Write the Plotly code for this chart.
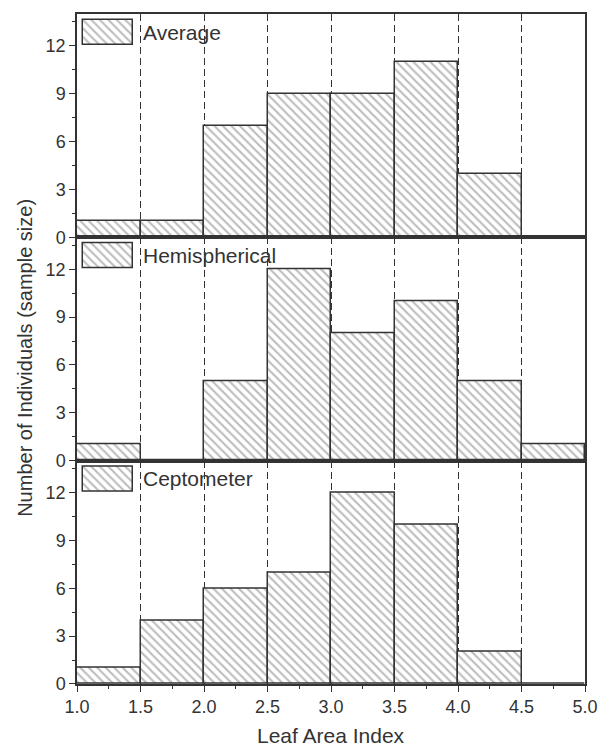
import plotly.graph_objects as go
from plotly.subplots import make_subplots

# ---- data ----
bin_left = [1.0, 1.5, 2.0, 2.5, 3.0, 3.5, 4.0, 4.5]
bin_width = 0.5
average = [1, 1, 7, 9, 9, 11, 4, 0]
hemispherical = [1, 0, 5, 12, 8, 10, 5, 1]
ceptometer = [1, 4, 6, 7, 12, 10, 2, 0]
series_names = ["Average", "Hemispherical", "Ceptometer"]
series_values = [average, hemispherical, ceptometer]
x_ticks = [1.0, 1.5, 2.0, 2.5, 3.0, 3.5, 4.0, 4.5, 5.0]
y_ticks = [0, 3, 6, 9, 12]
x_range = [1.0, 5.0]
y_range = [0, 14]

# ---- layout constants ----
W, H = 610, 749
ML, MR, MT, MB = 77, 14, 14, 65
INK = "#333333"
FONT = "Liberation Sans, Arial, Helvetica, sans-serif"

panel_h = (H - MT - MB) / 3.0
px_per_x = (W - ML - MR) / (x_range[1] - x_range[0])
px_per_y = panel_h / (y_range[1] - y_range[0])

fig = make_subplots(rows=3, cols=1, shared_xaxes=True, vertical_spacing=0)

marker_style = dict(
    color="white",
    line=dict(color=INK, width=1.5),
    pattern=dict(shape="\\", fgcolor="#7a7a7a", bgcolor="white", size=6, solidity=0.35),
)

centers = [b + bin_width / 2 for b in bin_left]

# legend swatch geometry (pixels from panel top-left)
sw_left, sw_w, sw_top, sw_h = 6, 51, 5.5, 25
txt_left = 65

for i, (name, vals) in enumerate(zip(series_names, series_values)):
    row = i + 1
    fig.add_trace(go.Bar(x=centers, y=vals, width=[bin_width] * len(vals),
                         marker=marker_style, name=name, showlegend=False,
                         hoverinfo="x+y"), row=row, col=1)
    # legend swatch
    xc = x_range[0] + (sw_left + sw_w / 2) / px_per_x
    wd = sw_w / px_per_x
    base = y_range[1] - (sw_top + sw_h) / px_per_y
    hh = sw_h / px_per_y
    fig.add_trace(go.Bar(x=[xc], y=[hh], base=[base], width=[wd],
                         marker=marker_style, showlegend=False, hoverinfo="skip"),
                  row=row, col=1)
    axn = "" if row == 1 else str(row)
    fig.add_annotation(xref="x" + axn, yref="y" + axn,
                       x=x_range[0] + txt_left / px_per_x,
                       y=y_range[1] - (sw_top + sw_h / 2) / px_per_y,
                       text=name, showarrow=False, xanchor="left", yanchor="middle",
                       font=dict(family=FONT, size=21, color=INK))

for row in (1, 2, 3):
    fig.update_yaxes(range=y_range, tickvals=y_ticks, ticks="outside", ticklen=6,
                     tickwidth=1.3, tickcolor=INK,
                     minor=dict(dtick=1.5, tick0=0, ticks="outside", ticklen=3,
                                tickcolor=INK, tickwidth=1.3, showgrid=False),
                     showgrid=False, zeroline=False, showline=True, linecolor=INK,
                     linewidth=1.5, mirror=True,
                     tickfont=dict(family=FONT, size=18, color=INK),
                     fixedrange=True, row=row, col=1)
    fig.update_xaxes(range=x_range, tickvals=x_ticks, showgrid=True,
                     gridcolor=INK, gridwidth=1.3, griddash="7px,4px",
                     zeroline=False, showline=True, linecolor=INK, linewidth=1.5,
                     mirror=True, fixedrange=True, row=row, col=1)

fig.update_xaxes(ticks="", showticklabels=False, row=1, col=1)
fig.update_xaxes(ticks="", showticklabels=False, row=2, col=1)
fig.update_xaxes(ticks="outside", ticklen=6, tickwidth=1.3, tickcolor=INK,
                 showticklabels=True, tickformat=".1f",
                 minor=dict(dtick=0.25, tick0=1.0, ticks="outside", ticklen=3,
                            tickcolor=INK, tickwidth=1.3, showgrid=False),
                 tickfont=dict(family=FONT, size=18, color=INK), row=3, col=1)

# axis titles
fig.add_annotation(xref="paper", yref="paper", x=(24 - ML) / (W - ML - MR), y=0.487,
                   text="Number of Individuals (sample size)", textangle=-90,
                   showarrow=False, xanchor="center", yanchor="middle",
                   font=dict(family=FONT, size=20, color=INK))
fig.add_annotation(xref="paper", yref="paper", x=0.5, y=(H - MB - 735) / (H - MT - MB),
                   text="Leaf Area Index", showarrow=False, xanchor="center",
                   yanchor="middle", font=dict(family=FONT, size=21, color=INK))

fig.update_layout(width=W, height=H, margin=dict(l=ML, r=MR, t=MT, b=MB),
                  paper_bgcolor="white", plot_bgcolor="white", bargap=0,
                  barmode="overlay", showlegend=False)

fig.write_html("out.html")
